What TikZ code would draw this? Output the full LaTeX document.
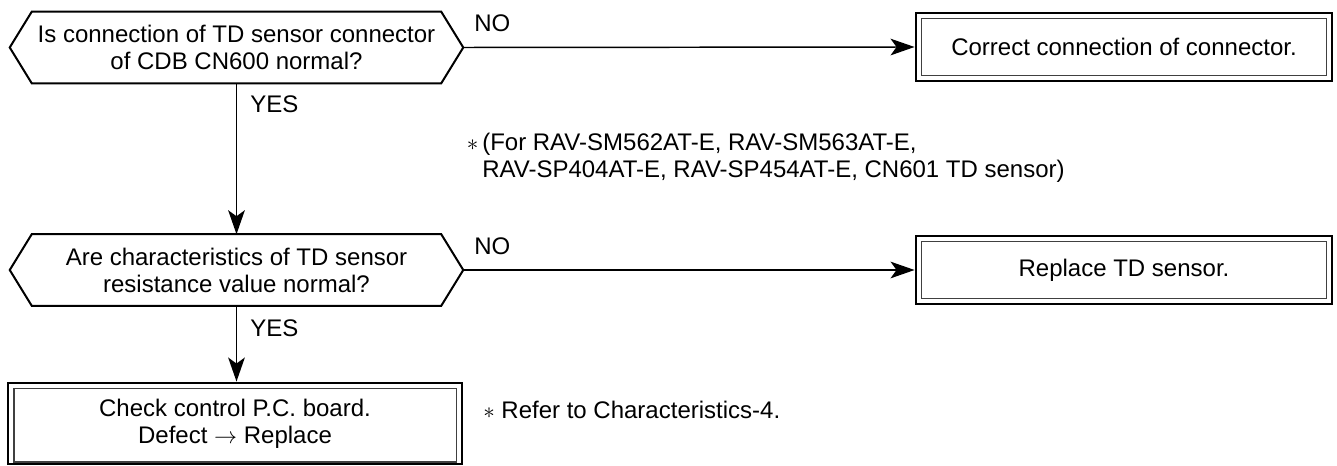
\documentclass[tikz,border=0pt]{standalone}
\usepackage{fontspec}
\setmainfont{Liberation Sans}
\usetikzlibrary{arrows.meta}
\begin{document}
\begin{tikzpicture}[x=0.75pt,y=-0.75pt,
  txt/.style={font=\fontsize{18pt}{20.25pt}\selectfont, inner sep=0pt},
  hexq/.style={txt, minimum width=339.75pt, minimum height=53.25pt, align=center},
  hexline/.style={line width=1.5pt, line join=miter},
  outbox/.style={txt, draw, line width=2.2pt, minimum width=312pt, minimum height=51pt, align=center},
  inbox/.style={line width=1pt, draw=black!75},
  conn/.style={line width=1.1pt, -{Stealth[length=18pt,width=12.5pt,inset=4.5pt]}},
  lbl/.style={txt}]
\useasboundingbox (0,0) rectangle (1337,466);

% decisions
\node[hexq] (q1) at (236.5,47.5) {Is connection of TD sensor connector\\of CDB CN600 normal?};
\draw[hexline] (q1.west) -- ([xshift=16.5pt]q1.north west) -- ([xshift=-16.5pt]q1.north east) -- (q1.east) -- ([xshift=-16.5pt]q1.south east) -- ([xshift=16.5pt]q1.south west) -- cycle;

\node[hexq] (q2) at (236.5,270) {Are characteristics of TD sensor\\resistance value normal?};
\draw[hexline] (q2.west) -- ([xshift=16.5pt]q2.north west) -- ([xshift=-16.5pt]q2.north east) -- (q2.east) -- ([xshift=-16.5pt]q2.south east) -- ([xshift=16.5pt]q2.south west) -- cycle;

% action boxes
\node[outbox] (b1) at (1124,47) {Correct connection of connector.};
\draw[inbox] ([shift={(7,7)}]b1.north west) rectangle ([shift={(-7,-7)}]b1.south east);

\node[outbox] (b2) at (1124,270) {Replace TD sensor.};
\draw[inbox] ([shift={(7,7)}]b2.north west) rectangle ([shift={(-7,-7)}]b2.south east);

\node[outbox, minimum width=340.5pt, minimum height=60.75pt] (b3) at (235,423.5) {Check control P.C. board.\\Defect $\rightarrow$ Replace};
\draw[inbox] ([shift={(7.5,7)}]b3.north west) rectangle ([shift={(-7,-3.5)}]b3.south east);

% connectors
\draw[conn] (q1.east) -- (b1.west);
\draw[conn] (q2.east) -- (b2.west);
\draw[conn] (q1.south) -- (q2.north);
\draw[conn] (q2.south) -- (q2.south |- b3.north);

% labels
\node[lbl,anchor=west] (no1) at (474,23) {NO};
\node[lbl,anchor=west] (yes1) at (250,104) {YES};
\node[lbl,anchor=west] (no2) at (474,246) {NO};
\node[lbl,anchor=west] (yes2) at (250,328) {YES};

% notes
\node[lbl,anchor=west,align=left] (n1) at (482,158) {\llap{$\ast$\,}(For RAV-SM562AT-E, RAV-SM563AT-E,\\RAV-SP404AT-E, RAV-SP454AT-E, CN601 TD sensor)};
\node[lbl,anchor=west] (n2) at (483,410) {$\ast$ Refer to Characteristics-4.};
\end{tikzpicture}
\end{document}
